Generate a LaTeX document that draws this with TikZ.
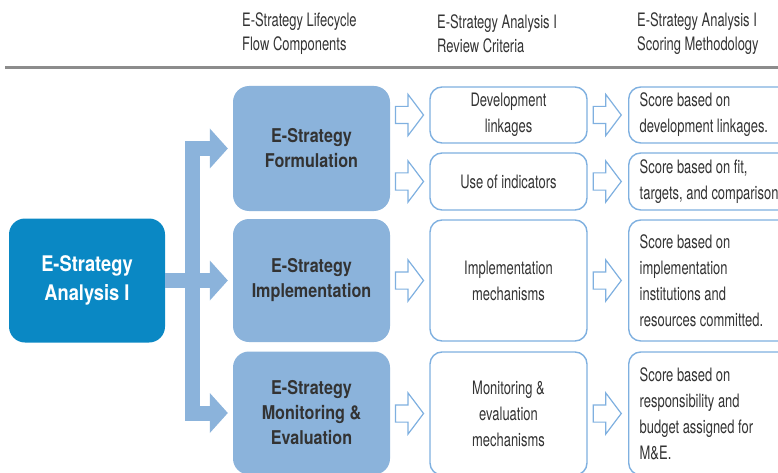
\documentclass[tikz,border=0pt]{standalone}
\usepackage{fontspec}
\newfontfamily\condfont[FakeStretch=0.7]{TeX Gyre Heros}
\newfontfamily\boldcond[FakeStretch=0.85]{TeX Gyre Heros}
\usetikzlibrary{arrows.meta,positioning,shapes.arrows}

\definecolor{darkblue}{HTML}{0A88C4}
\definecolor{midblue}{HTML}{8BB3DB}
\definecolor{lineblue}{HTML}{7FB0E0}
\definecolor{inkgray}{HTML}{333333}
\definecolor{rulegray}{HTML}{8C8C8C}

\tikzset{
  headtext/.style={anchor=west, align=flush left, inner sep=0pt, text=inkgray, font=\condfont\fontsize{18.5}{24}\selectfont},
  anabox/.style={fill=darkblue, rounded corners=16pt, minimum width=156pt, minimum height=124pt, align=center, text=white, font=\boldcond\bfseries\fontsize{21.5}{29}\selectfont},
  phasebox/.style={fill=midblue, rounded corners=16pt, minimum width=157pt, align=center, text=inkgray, font=\boldcond\bfseries\fontsize{19}{25}\selectfont},
  critbox/.style={draw=lineblue, line width=1.4pt, fill=white, rounded corners=12pt, minimum width=157pt, align=center, text=inkgray, font=\condfont\fontsize{18.5}{26}\selectfont},
  scorebox/.style={critbox, anchor=west, text width=200pt, inner xsep=11pt, align=flush left},
  hollow/.style={shape=single arrow, draw=lineblue, line width=1.2pt, fill=white, inner sep=0pt, inner ysep=8pt, minimum height=28pt, single arrow head extend=12pt, single arrow tip angle=106},
  fat/.style={draw=midblue, line width=15pt, -{Triangle[length=18pt 0 0, width=40pt 0 0, line width=0pt]}, shorten >=5pt}
}

\begin{document}
\begin{tikzpicture}[x=1pt, y=-1pt]

\useasboundingbox (0,0) rectangle (778,473);
\clip (0,0) rectangle (778,473);

% column heads
\node[headtext] at (242,34) (hdlife) {E-Strategy Lifecycle\\Flow Components};
\node[headtext] at (437,34) (hdcrit) {E-Strategy Analysis I\\Review Criteria};
\node[headtext] at (637,34) (hdscore) {E-Strategy Analysis I\\Scoring Methodology};
\draw[rulegray, line width=3pt] (5,67.5) -- (778,67.5);

% analysis and lifecycle phases
\node[anabox] at (87,280.5) (ana) {E-Strategy\\Analysis I};
\node[phasebox, minimum height=125pt] at (311.5,148.5) (form) {E-Strategy\\Formulation};
\node[phasebox, minimum height=123pt] at (311.5,280.5) (impl) {E-Strategy\\Implementation};
\node[phasebox, minimum height=123pt] at (311.5,413) (mon) {E-Strategy\\Monitoring \&\\Evaluation};

% review criteria
\node[critbox, minimum height=56pt] at (508.5,115) (devcrit) {Development\\linkages};
\node[critbox, minimum height=57pt] at (508.5,181.5) (indcrit) {Use of indicators};
\node[critbox, minimum height=121pt] at (508.5,280.5) (implcrit) {Implementation\\mechanisms};
\node[critbox, minimum height=123pt] at (508.5,413.5) (moncrit) {Monitoring \&\\evaluation\\mechanisms};

% scoring methodology
\node[scorebox, minimum height=56pt] at (628,115) (devscore) {Score based on\\development linkages.};
\node[scorebox, minimum height=57pt] at (628,181.5) (indscore) {Score based on fit,\\targets, and comparison};
\node[scorebox, minimum height=121pt] at (628,280.5) (implscore) {Score based on\\implementation\\institutions and\\resources committed.};
\node[scorebox, minimum height=123pt] at (628,413.5) (monscore) {Score based on\\responsibility and\\budget assigned for\\M\&E.};

% hollow arrows
\node[hollow, left=5pt of devcrit] (ha1) {};
\node[hollow, left=5pt of indcrit] (ha2) {};
\node[hollow, left=5pt of implcrit] (ha3) {};
\node[hollow, left=5pt of moncrit] (ha4) {};
\node[hollow, left=6pt of devscore] (hb1) {};
\node[hollow, left=6pt of indscore] (hb2) {};
\node[hollow, left=6pt of implscore] (hb3) {};
\node[hollow, left=6pt of monscore] (hb4) {};

% fat arrows
\coordinate (fork) at (192.5,280.5);
\draw[fat] (fork) |- (form.west);
\draw[fat] (fork) |- (mon.west);
\draw[fat] (ana.east) -- (impl.west);

\end{tikzpicture}
\end{document}
